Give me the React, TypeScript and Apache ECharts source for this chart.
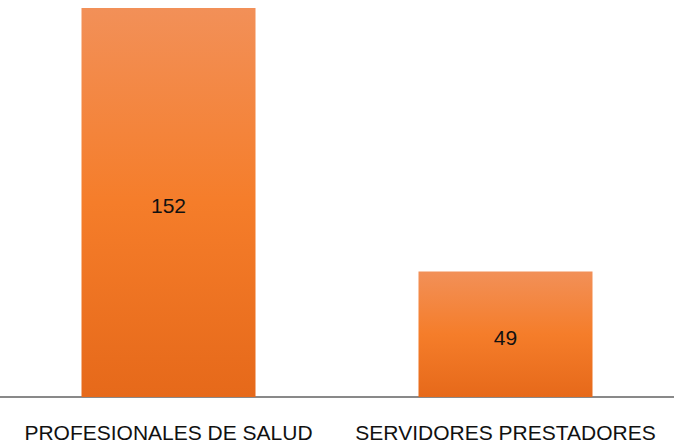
import React, { useEffect, useRef } from "react";
import * as echarts from "echarts";

const categories = ["PROFESIONALES DE SALUD", "SERVIDORES PRESTADORES"];
const values = [152, 49];

export default function App() {
  const ref = useRef<HTMLDivElement>(null);
  useEffect(() => {
    if (!ref.current) return;
    const chart = echarts.init(ref.current, undefined, { renderer: "svg" });
    chart.setOption({
      animation: false,
      grid: { left: 0, right: 0, top: 8, bottom: 47, containLabel: false },
      xAxis: {
        type: "category",
        data: categories,
        axisLine: { show: true, lineStyle: { color: "#898989", width: 2 } },
        axisTick: { show: false },
        axisLabel: {
          color: "#111",
          fontFamily: "Liberation Sans, Arial, sans-serif",
          fontSize: 21,
          margin: 25,
          interval: 0,
        },
      },
      yAxis: {
        type: "value",
        min: 0,
        max: 152,
        show: false,
        splitLine: { show: false },
      },
      series: [
        {
          type: "bar",
          data: values,
          barWidth: 174,
          itemStyle: {
            color: new echarts.graphic.LinearGradient(0, 0, 0, 1, [
              { offset: 0, color: "#F29058" },
              { offset: 0.5, color: "#F57D2A" },
              { offset: 1, color: "#E6691A" },
            ]),
          },
          label: {
            show: true,
            position: "inside",
            offset: [0, 3],
            color: "#111",
            fontFamily: "Liberation Sans, Arial, sans-serif",
            fontSize: 21,
          },
        },
      ],
    });
    return () => chart.dispose();
  }, []);
  return (
    <div
      ref={ref}
      style={{ position: "fixed", left: 0, top: 0, width: 674, height: 444, background: "#fff" }}
    />
  );
}
